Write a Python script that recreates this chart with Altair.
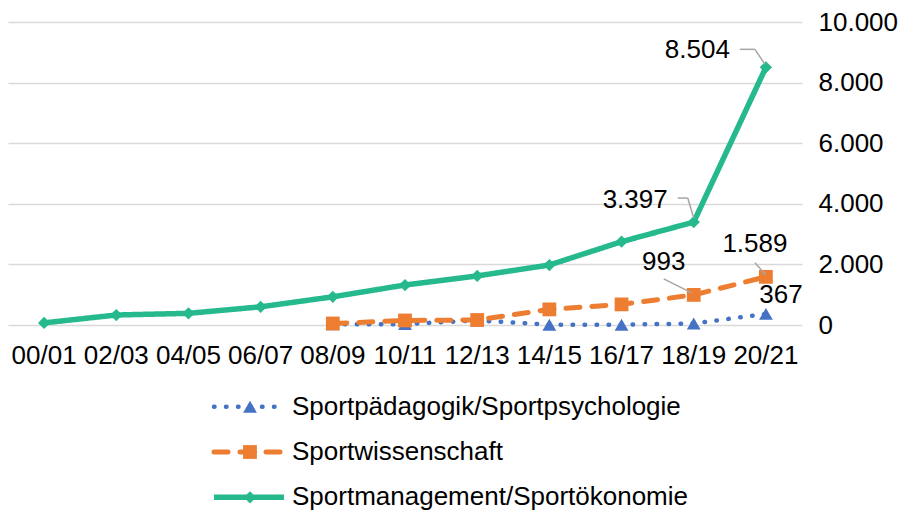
import altair as alt
import pandas as pd

categories = ["00/01", "02/03", "04/05", "06/07", "08/09", "10/11",
              "12/13", "14/15", "16/17", "18/19", "20/21"]
series_names = ["Sportpädagogik/Sportpsychologie", "Sportwissenschaft",
                "Sportmanagement/Sportökonomie"]
paed = [None, None, None, None, 20, 30, 150, 10, 10, 50, 367]
wiss = [None, None, None, None, 50, 150, 165, 515, 680, 993, 1589]
mgmt = [70, 330, 385, 600, 930, 1320, 1620, 1980, 2750, 3397, 8504]
y_ticks = [0, 2000, 4000, 6000, 8000, 10000]
label_texts = {  # (series index, category) -> shown label
    (2, "20/21"): "8.504",
    (2, "18/19"): "3.397",
    (1, "18/19"): "993",
    (1, "20/21"): "1.589",
    (0, "20/21"): "367",
}

colors = ["#4472C4", "#ED7D31", "#25B98D"]
shapes = ["triangle-up", "square", "diamond"]
dashes = [[0.5, 11.5], [14, 12], [1, 0]]
widths = [4.5, 5, 5.5]
sizes = [190, 190, 150]

rows = []
for s, vals in zip(series_names, [paed, wiss, mgmt]):
    for c, v in zip(categories, vals):
        if v is not None:
            rows.append({"cat": c, "series": s, "value": v})
df = pd.DataFrame(rows)

lab_rows = []
for (si, c), t in label_texts.items():
    vals = [paed, wiss, mgmt][si]
    lab_rows.append({"cat": c, "series": series_names[si],
                     "value": vals[categories.index(c)], "label": t})
ldf = pd.DataFrame(lab_rows)

FONT = "Liberation Sans"
FS = 26
W = 794
H = 303

x_enc = alt.X("cat:N", sort=categories,
              axis=alt.Axis(title=None, labelAngle=0, ticks=False, domain=False,
                            labelFontSize=FS, labelColor="#000000", labelFont=FONT,
                            labelPadding=17, grid=False))
y_enc = alt.Y("value:Q",
              scale=alt.Scale(domain=[0, 10000], nice=False),
              axis=alt.Axis(title=None, orient="right", values=y_ticks,
                            ticks=False, domain=False,
                            labelExpr="replace(format(datum.value, ','), ',', '.')",
                            labelFontSize=FS, labelColor="#000000", labelFont=FONT,
                            labelPadding=16, labelAlign="left",
                            gridColor="#D9D9D9", gridWidth=1.5))

layers = []
for i, s in enumerate(series_names):
    sub = alt.Chart(df).transform_filter(alt.datum.series == s)
    line = sub.mark_line(color=colors[i], strokeWidth=widths[i],
                         strokeDash=dashes[i],
                         strokeCap="round" if i < 2 else "butt",
                         strokeJoin="round").encode(x=x_enc, y=y_enc)
    pts = sub.mark_point(shape=shapes[i], filled=True, opacity=1,
                         color=colors[i], size=sizes[i]).encode(x=x_enc, y=y_enc)
    layers += [line, pts]

# leader lines (offsets relative to the data point)
leaders = [
    ("8.504", (-26, -18, -11, -18)),
    ("8.504", (-11, -18, -1, -3)),
    ("3.397", (-16, -24, -6, -24)),
    ("3.397", (-6, -24, 0, -4)),
    ("993", (-30, -16, -2, -2)),
    ("1.589", (-11, -14, 0, -2)),
]
for lab, (x1, y1, x2, y2) in leaders:
    layers.append(
        alt.Chart(ldf).transform_filter(alt.datum.label == lab)
        .mark_rule(color="#A6A6A6", strokeWidth=1.5,
                   xOffset=x1, yOffset=y1, x2Offset=x2, y2Offset=y2)
        .encode(x=x_enc, y=y_enc, x2="cat:N", y2="value:Q")
    )

# data labels
label_style = {
    "8.504": ("right", -36, -17),
    "3.397": ("right", -26, -22),
    "993": ("center", -30, -33),
    "1.589": ("center", -11, -33),
    "367": ("center", 15, -19),
}
for lab, (al, dx, dy) in label_style.items():
    layers.append(
        alt.Chart(ldf).transform_filter(alt.datum.label == lab)
        .mark_text(align=al, baseline="middle", dx=dx, dy=dy, fontSize=FS,
                   font=FONT, color="#000000")
        .encode(x=x_enc, y=y_enc, text="label:N")
    )

main = alt.layer(*layers).properties(width=W, height=H)

# legend panel
leg_df = pd.DataFrame({"series": series_names})
ly = alt.Y("series:N", sort=series_names, axis=None)
lcol = alt.Color("series:N", scale=alt.Scale(domain=series_names, range=colors), legend=None)
leg_layers = []
for i, s in enumerate(series_names):
    sub = alt.Chart(leg_df).transform_filter(alt.datum.series == s)
    leg_layers.append(
        sub.mark_rule(strokeWidth=widths[i], strokeDash=dashes[i],
                      strokeCap="round" if i < 2 else "butt")
        .encode(x=alt.value(206), x2=alt.value(276), y=ly, color=lcol)
    )
    leg_layers.append(
        sub.mark_point(shape=shapes[i], filled=True, opacity=1, size=sizes[i])
        .encode(x=alt.value(242), y=ly, color=lcol)
    )
leg_layers.append(
    alt.Chart(leg_df).mark_text(align="left", baseline="middle", fontSize=FS,
                                font=FONT, color="#000000")
    .encode(x=alt.value(284), y=ly, text="series:N")
)
legend = alt.layer(*leg_layers).properties(width=W, height=136)

chart = alt.vconcat(main, legend, spacing=16).properties(
    padding={"left": 0, "top": 1, "right": 4, "bottom": 0}
).configure(font=FONT).configure_view(strokeWidth=0, stroke="transparent")

chart.save("out.html", embed_options={"renderer": "svg", "actions": False})
